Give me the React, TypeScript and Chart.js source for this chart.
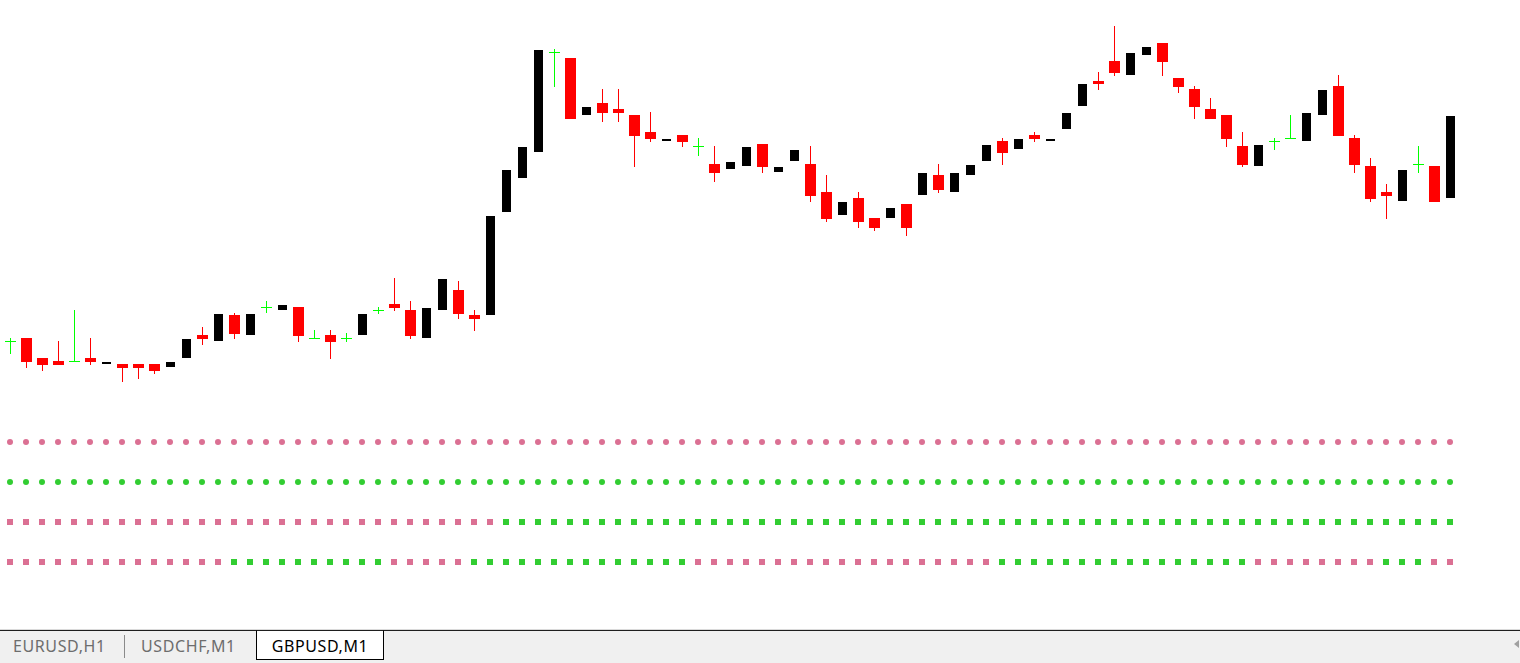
import { useEffect, useRef } from "react";
import { Chart, registerables } from "chart.js";

Chart.register(...registerables);

// ---- GBPUSD M1 candles ----
const OPEN = [
  1.27059, 1.27062, 1.27042, 1.27039, 1.27039, 1.27042, 1.27036, 1.27036, 1.27036, 1.27036,
  1.27033, 1.27042, 1.27065, 1.27059, 1.27085, 1.27065, 1.27093, 1.27090, 1.27093, 1.27062,
  1.27065, 1.27062, 1.27065, 1.27090, 1.27096, 1.27090, 1.27062, 1.27090, 1.27110, 1.27085,
  1.27085, 1.27188, 1.27222, 1.27248, 1.27348, 1.27342, 1.27285, 1.27297, 1.27291, 1.27285,
  1.27268, 1.27259, 1.27265, 1.27254, 1.27236, 1.27231, 1.27234, 1.27256, 1.27228, 1.27239,
  1.27236, 1.27208, 1.27185, 1.27202, 1.27182, 1.27182, 1.27196, 1.27205, 1.27225, 1.27208,
  1.27225, 1.27239, 1.27259, 1.27251, 1.27265, 1.27259, 1.27271, 1.27294, 1.27319, 1.27339,
  1.27325, 1.27345, 1.27357, 1.27322, 1.27311, 1.27291, 1.27285, 1.27254, 1.27234, 1.27259,
  1.27262, 1.27259, 1.27285, 1.27314, 1.27262, 1.27234, 1.27208, 1.27199, 1.27236, 1.27234,
  1.27202,
];
const HIGH = [
  1.27062, 1.27062, 1.27042, 1.27059, 1.27090, 1.27062, 1.27038, 1.27036, 1.27036, 1.27036,
  1.27038, 1.27061, 1.27073, 1.27086, 1.27087, 1.27086, 1.27099, 1.27095, 1.27093, 1.27070,
  1.27070, 1.27067, 1.27086, 1.27093, 1.27122, 1.27099, 1.27092, 1.27121, 1.27119, 1.27090,
  1.27184, 1.27230, 1.27253, 1.27350, 1.27351, 1.27342, 1.27293, 1.27311, 1.27311, 1.27285,
  1.27288, 1.27261, 1.27265, 1.27262, 1.27254, 1.27238, 1.27253, 1.27256, 1.27233, 1.27250,
  1.27254, 1.27225, 1.27198, 1.27208, 1.27182, 1.27192, 1.27196, 1.27227, 1.27236, 1.27227,
  1.27235, 1.27255, 1.27262, 1.27261, 1.27268, 1.27261, 1.27287, 1.27316, 1.27328, 1.27374,
  1.27347, 1.27353, 1.27357, 1.27322, 1.27314, 1.27302, 1.27285, 1.27268, 1.27255, 1.27262,
  1.27285, 1.27287, 1.27310, 1.27325, 1.27265, 1.27242, 1.27216, 1.27230, 1.27254, 1.27234,
  1.27284,
];
const LOW = [
  1.27046, 1.27032, 1.27029, 1.27035, 1.27039, 1.27035, 1.27036, 1.27018, 1.27021, 1.27026,
  1.27033, 1.27042, 1.27055, 1.27059, 1.27061, 1.27065, 1.27087, 1.27090, 1.27058, 1.27062,
  1.27041, 1.27058, 1.27065, 1.27086, 1.27089, 1.27061, 1.27062, 1.27090, 1.27081, 1.27069,
  1.27085, 1.27188, 1.27222, 1.27248, 1.27313, 1.27281, 1.27285, 1.27278, 1.27278, 1.27233,
  1.27258, 1.27259, 1.27253, 1.27244, 1.27218, 1.27231, 1.27234, 1.27227, 1.27228, 1.27239,
  1.27198, 1.27178, 1.27185, 1.27172, 1.27169, 1.27182, 1.27164, 1.27205, 1.27207, 1.27208,
  1.27225, 1.27239, 1.27235, 1.27251, 1.27258, 1.27259, 1.27271, 1.27294, 1.27310, 1.27324,
  1.27325, 1.27345, 1.27324, 1.27307, 1.27281, 1.27281, 1.27253, 1.27233, 1.27234, 1.27250,
  1.27262, 1.27259, 1.27285, 1.27264, 1.27227, 1.27198, 1.27181, 1.27199, 1.27227, 1.27198,
  1.27202,
];
const CLOSE = [
  1.27059, 1.27038, 1.27035, 1.27035, 1.27039, 1.27038, 1.27038, 1.27032, 1.27032, 1.27029,
  1.27038, 1.27061, 1.27061, 1.27086, 1.27066, 1.27086, 1.27093, 1.27095, 1.27064, 1.27062,
  1.27058, 1.27062, 1.27086, 1.27090, 1.27092, 1.27064, 1.27092, 1.27121, 1.27086, 1.27081,
  1.27184, 1.27230, 1.27253, 1.27350, 1.27348, 1.27281, 1.27293, 1.27287, 1.27287, 1.27264,
  1.27261, 1.27261, 1.27258, 1.27254, 1.27227, 1.27238, 1.27253, 1.27233, 1.27233, 1.27250,
  1.27204, 1.27181, 1.27198, 1.27178, 1.27172, 1.27192, 1.27172, 1.27227, 1.27210, 1.27227,
  1.27235, 1.27255, 1.27247, 1.27261, 1.27261, 1.27261, 1.27287, 1.27316, 1.27316, 1.27327,
  1.27347, 1.27353, 1.27338, 1.27313, 1.27293, 1.27281, 1.27261, 1.27235, 1.27255, 1.27259,
  1.27262, 1.27287, 1.27310, 1.27264, 1.27235, 1.27201, 1.27204, 1.27230, 1.27236, 1.27198,
  1.27284,
];

// ---- indicator rows: d = down (pink), u = up (green) ----
const ROW1 = "dddddddddd dddddddddd dddddddddd dddddddddd dddddddddd dddddddddd dddddddddd dddddddddd dddddddddd d";
const ROW2 = "uuuuuuuuuu uuuuuuuuuu uuuuuuuuuu uuuuuuuuuu uuuuuuuuuu uuuuuuuuuu uuuuuuuuuu uuuuuuuuuu uuuuuuuuuu u";
const ROW3 = "dddddddddd dddddddddd dddddddddd duuuuuuuuu uuuuuuuuuu uuuuuuuuuu uuuuuuuuuu uuuuuuuuuu uuuuuuuuuu u";
const ROW4 = "dddddddddd dddduuuuuu uuuudddddu uuuuuuuuuu uuuddddddd dddddddddd dduuuuuuuu uuuuuuuudd dddddduuud d";

const TABS = ["EURUSD,H1", "USDCHF,M1", "GBPUSD,M1"];

const RED = "#ff0000";
const BLACK = "#000000";
const DOJI = "#00ff00";
const PINK = "#db7093";
const LIME = "#32cd32";
const TICK = 0.00001;

function kindOf(i: number) {
  if (CLOSE[i] > OPEN[i]) return "up";
  if (CLOSE[i] < OPEN[i]) return "down";
  return "doji";
}

function ChartView() {
  const ref = useRef<HTMLCanvasElement | null>(null);
  useEffect(() => {
    if (!ref.current) return;
    const idx = OPEN.map((_, i) => i);
    const wick = (k: string) =>
      idx.filter((i) => kindOf(i) === k).map((i) => ({ x: i, y: [LOW[i], HIGH[i]] }));
    const body = (k: string) =>
      idx
        .filter((i) => kindOf(i) === k)
        .map((i) =>
          k === "doji"
            ? { x: i, y: [CLOSE[i] - TICK, CLOSE[i]] }
            : { x: i, y: [Math.min(OPEN[i], CLOSE[i]), Math.max(OPEN[i], CLOSE[i])] }
        );
    const barBase = {
      type: "bar" as const,
      grouped: false,
      borderWidth: 0,
      inflateAmount: 0,
      borderSkipped: false,
      xAxisID: "x",
      yAxisID: "y",
    };
    const rowSet = (s: string, level: number, style: string, radius: number) => {
      const sig = s.replace(/ /g, "").split("");
      return {
        type: "scatter" as const,
        xAxisID: "x2",
        yAxisID: "y2",
        data: sig.map((_, i) => ({ x: i, y: level })),
        pointStyle: style,
        pointRadius: radius,
        pointBorderWidth: 0,
        pointBackgroundColor: sig.map((c) => (c === "u" ? LIME : PINK)),
        showLine: false,
        order: 0,
      };
    };
    const chart = new Chart(ref.current, {
      type: "bar",
      data: {
        datasets: [
          { ...barBase, data: body("down"), backgroundColor: RED, barThickness: 11, order: 1 },
          { ...barBase, data: body("up"), backgroundColor: BLACK, barThickness: 9, order: 1 },
          { ...barBase, data: body("doji"), backgroundColor: DOJI, barThickness: 11, order: 1 },
          { ...barBase, data: wick("down"), backgroundColor: RED, barThickness: 1, order: 2 },
          { ...barBase, data: wick("up"), backgroundColor: BLACK, barThickness: 1, order: 2 },
          { ...barBase, data: wick("doji"), backgroundColor: DOJI, barThickness: 1, order: 2 },
          rowSet(ROW1, 4, "circle", 3),
          rowSet(ROW2, 3, "circle", 3),
          rowSet(ROW3, 2, "rect", 4.243),
          rowSet(ROW4, 1, "rect", 4.243),
        ] as any,
      },
      options: {
        animation: false,
        responsive: false,
        maintainAspectRatio: false,
        events: [],
        layout: { padding: 0, autoPadding: false },
        plugins: { legend: { display: false }, tooltip: { enabled: false } },
        scales: {
          x: { type: "linear", display: false, min: -0.65625, max: 94.34375, offset: false, grid: { offset: false } },
          y: { type: "linear", display: false, min: 1.2677, max: 1.274, beginAtZero: false },
          x2: { type: "linear", axis: "x", display: false, min: -0.625, max: 94.375, offset: false },
          y2: { type: "linear", axis: "y", display: false, min: -0.7, max: 15.05 },
        },
      } as any,
    });
    return () => chart.destroy();
  }, []);
  return <canvas ref={ref} width={1520} height={630} style={{ position: "absolute", left: 0, top: 0, width: 1520, height: 630 }} />;
}

export default function App() {
  const font = "'Noto Sans', 'Open Sans', sans-serif";
  const tabText = { position: "absolute" as const, top: 633, fontFamily: font, fontSize: 16, letterSpacing: "0.6px", lineHeight: "26px" };
  return (
    <div style={{ position: "fixed", left: 0, top: 0, width: 1520, height: 663, background: "#ffffff", overflow: "hidden" }}>
      <ChartView />
      <div style={{ position: "absolute", left: 0, top: 629, width: 1520, height: 1, background: "#dadada" }} />
      <div style={{ position: "absolute", left: 0, top: 630, width: 1520, height: 1, background: "#1e1e1e" }} />
      <div style={{ position: "absolute", left: 0, top: 631, width: 1520, height: 32, background: "#f0f0f0" }} />
      <div style={{ ...tabText, left: 13, color: "#6d6d6d" }}>{TABS[0]}</div>
      <div style={{ position: "absolute", left: 124, top: 635, width: 1, height: 23, background: "#8a8a8a" }} />
      <div style={{ ...tabText, left: 141, color: "#6d6d6d" }}>{TABS[1]}</div>
      <div
        style={{
          position: "absolute",
          left: 256,
          top: 630,
          width: 128,
          height: 30,
          background: "#ffffff",
          borderLeft: "1px solid #000",
          borderRight: "1px solid #000",
          borderBottom: "1px solid #000",
          borderTop: "1px solid #1e1e1e",
          boxSizing: "border-box",
        }}
      />
      <div style={{ ...tabText, left: 256, width: 128, textAlign: "center", color: "#000" }}>{TABS[2]}</div>
      <div
        style={{
          position: "absolute",
          left: 1514,
          top: 640,
          width: 0,
          height: 0,
          borderTop: "4px solid transparent",
          borderBottom: "4px solid transparent",
          borderRight: "5px solid #a0a0a0",
        }}
      />
    </div>
  );
}
